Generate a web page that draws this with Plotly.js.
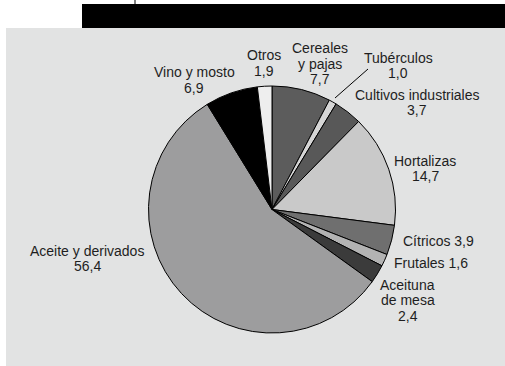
<!DOCTYPE html>
<html>
<head>
<meta charset="utf-8">
<script src="https://cdn.plot.ly/plotly-3.0.1.min.js"></script>
<style>html,body{margin:0;padding:0;background:#fff;}#chart{width:505px;height:366px;}</style>
</head>
<body>
<div id="chart"></div>
<script>
// Data (clockwise from 12 o'clock)
const categories = ["Cereales<br>y pajas", "Tubérculos", "Cultivos industriales", "Hortalizas", "Cítricos", "Frutales", "Aceituna<br>de mesa", "Aceite y derivados", "Vino y mosto", "Otros"];
const values = [7.7, 1.0, 3.7, 14.7, 3.9, 1.6, 2.4, 56.4, 6.9, 1.9];
const sliceColors = ["#5c5c5c", "#d6d6d6", "#585858", "#c9c9c9", "#6f6f6f", "#b3b3b3", "#3b3b3b", "#9d9d9e", "#000000", "#eeeeee"];
// label placement: x centre and y centre of each line (pixels); value on same line or next line
const labelX = [320, 398, 417, 425, 438.5, 431, 407.5, 87, 194, 264];
const labelLineY = [[48, 64, 79], [58, 73], [95, 110], [161, 176], [241], [263], [285, 300, 316], [251, 266], [72, 88], [55, 71]];
const valueSameLine = [false, false, false, false, true, true, false, false, false, false];

const W = 505, H = 366;
const cx = 272, cy = 209.5, r = 123.5;
const fmt = v => v.toFixed(1).replace('.', ',');

const trace = {
  type: 'pie',
  values: values,
  labels: categories,
  sort: false,
  direction: 'clockwise',
  rotation: 0,
  textinfo: 'none',
  hoverinfo: 'label+value',
  marker: {colors: sliceColors, line: {color: '#000', width: 1}},
  domain: {x: [(cx - r) / W, (cx + r) / W], y: [(H - cy - r) / H, (H - cy + r) / H]},
  showlegend: false
};

const font = {family: 'Liberation Sans, Arial, sans-serif', size: 14, color: '#1e1e1e'};
const annotations = [];
categories.forEach((c, i) => {
  let lines = c.split('<br>');
  if (valueSameLine[i]) lines[lines.length - 1] += ' ' + fmt(values[i]);
  else lines.push(fmt(values[i]));
  lines.forEach((t, j) => {
    annotations.push({
      text: t,
      x: labelX[i] / W, y: 1 - labelLineY[i][j] / H,
      xref: 'paper', yref: 'paper', xanchor: 'center', yanchor: 'middle',
      showarrow: false, font: font
    });
  });
});

const shapes = [
  {type: 'rect', xref: 'paper', yref: 'paper', x0: 6 / W, x1: 1, y0: 0, y1: 1 - 28 / H, fillcolor: '#e2e3e3', line: {width: 0}, layer: 'below'},
  {type: 'rect', xref: 'paper', yref: 'paper', x0: 82 / W, x1: 1, y0: 1 - 28 / H, y1: 1 - 4 / H, fillcolor: '#000', line: {width: 0}, layer: 'below'},
  {type: 'line', xref: 'paper', yref: 'paper', x0: 135 / W, x1: 135 / W, y0: 1 - 4 / H, y1: 1, line: {color: '#000', width: 1}},
  {type: 'line', xref: 'paper', yref: 'paper', x0: 335 / W, x1: 368 / W, y0: 1 - 98 / H, y1: 1 - 69 / H, line: {color: '#000', width: 1}}
];

Plotly.newPlot('chart', [trace], {
  width: W, height: H,
  margin: {l: 0, r: 0, t: 0, b: 0},
  paper_bgcolor: '#ffffff',
  shapes: shapes,
  annotations: annotations
}, {displayModeBar: false, staticPlot: true});
</script>
</body>
</html>
